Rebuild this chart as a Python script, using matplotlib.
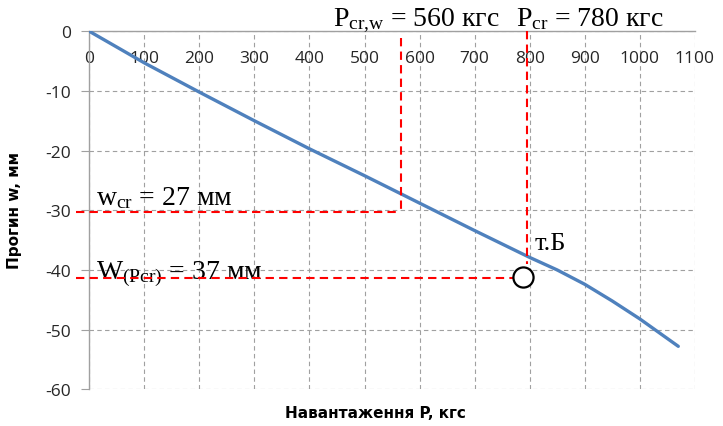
import matplotlib
matplotlib.use("Agg")
import matplotlib.pyplot as plt

plt.rcParams["axes.unicode_minus"] = False

# load P (kgf) vs deflection w (mm)
load = [0, 100, 200, 300, 400, 500, 600, 700, 800, 850, 900, 950, 1000, 1070]
deflection = [0, -5.3, -10.2, -15.0, -19.7, -24.2, -28.8, -33.4, -37.9, -40.0, -42.4,
              -45.2, -48.2, -52.8]

# critical points
p_cr_w, w_cr = 566, -30.3
p_cr, w_p_cr = 796, -41.3
point_b = (788, -41.1)

x_ticks = list(range(0, 1101, 100))
y_ticks = list(range(-60, 1, 10))

serif = "Liberation Serif"
sans = "Open Sans"

fig = plt.figure(figsize=(7.23, 4.27), dpi=100)
ax = fig.add_axes([0.1235, 0.086, 0.8375, 0.8384])

ax.plot(load, deflection, color="#4F81BD", lw=2.4, solid_capstyle="round",
        solid_joinstyle="round", zorder=3)

red = dict(color="#FF0000", lw=1.5, dashes=(4, 2.5), clip_on=False, zorder=4)
ax.plot([p_cr_w, p_cr_w], [-1.1, w_cr], **red)
ax.plot([-24, p_cr_w], [w_cr, w_cr], **red)
ax.plot([p_cr, p_cr], [0, -39.0], **red)
ax.plot([-24, 770], [w_p_cr, w_p_cr], **red)

ax.plot(*point_b, "o", ms=14.5, mfc="white", mec="black", mew=1.6, zorder=5)

ax.set_xlim(0, 1100)
ax.set_ylim(-60, 0)
ax.set_xticks(x_ticks)
ax.set_yticks(y_ticks)
ax.grid(True, color="#A0A0A0", lw=0.8, ls=(0, (4, 3)))
ax.set_axisbelow(True)

for side in ("right", "bottom"):
    ax.spines[side].set_visible(False)
for side in ("left", "top"):
    ax.spines[side].set_color("#A0A0A0")
    ax.spines[side].set_linewidth(1.0)

ax.tick_params(axis="x", top=True, bottom=False, labeltop=True, labelbottom=False,
               length=0, pad=-25, labelsize=12.5, labelcolor="#262626")
ax.tick_params(axis="y", length=6, color="#A0A0A0", pad=7, labelsize=12.5,
               labelcolor="#262626")
for lbl in ax.get_xticklabels() + ax.get_yticklabels():
    lbl.set_fontfamily(sans)

fig.text(0.0195, 0.506, "Прогин w, мм", rotation=90, ha="center", va="center",
         fontsize=11, fontweight="bold", family="DejaVu Sans")
fig.text(0.519, 0.031, "Навантаження P, кгс", ha="center", va="center",
         fontsize=11, fontweight="bold", family="DejaVu Sans")

ax.text(442, 1.0, r"$\mathregular{P_{cr{,}w}}$ = 560 кгс", fontsize=20, family=serif,
        ha="left", va="baseline")
ax.text(776, 1.0, r"$\mathregular{P_{cr}}$ = 780 кгс", fontsize=20, family=serif,
        ha="left", va="baseline")
ax.text(13, -28.9, r"$\mathregular{w_{cr}}$ = 27 мм", fontsize=20, family=serif,
        ha="left", va="baseline")
ax.text(13, -41.3, r"$\mathregular{W_{(Pcr)}}$ = 37 мм", fontsize=20, family=serif,
        ha="left", va="baseline")
ax.text(808, -36.5, "т.Б", fontsize=19, family=serif, ha="left", va="baseline")

fig.savefig("out.png", dpi=100)
